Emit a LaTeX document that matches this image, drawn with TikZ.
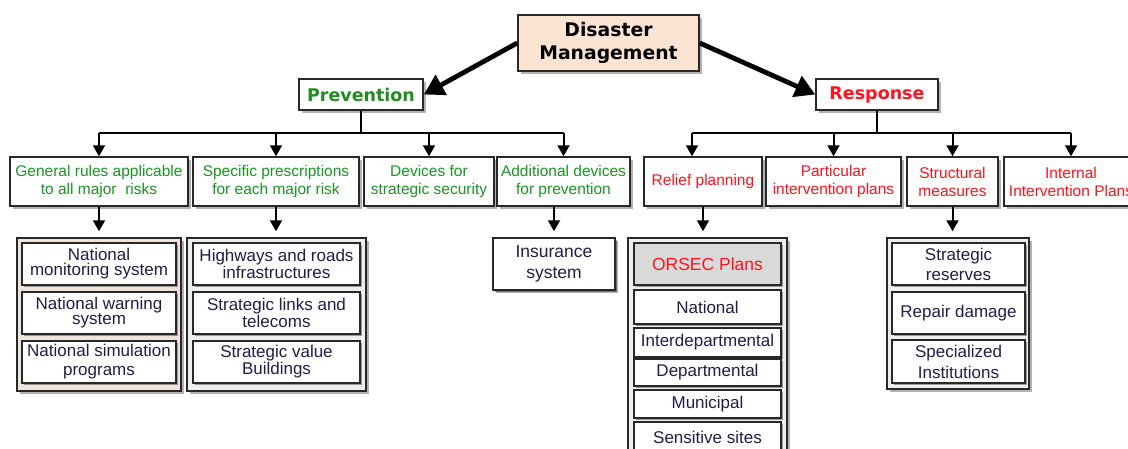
\documentclass[tikz,border=0pt]{standalone}
\usepackage{fontspec}
\setmainfont{Liberation Sans}
\newfontfamily\titlefont{DejaVu Sans}
\usetikzlibrary{arrows.meta,shadows}

\definecolor{peach}{RGB}{252,228,210}
\definecolor{grpeach}{RGB}{238,228,220}
\definecolor{grgray}{RGB}{238,238,238}
\definecolor{hdrgray}{RGB}{217,217,217}
\definecolor{tgreen}{RGB}{25,150,35}
\definecolor{pgreen}{RGB}{34,140,34}
\definecolor{tred}{RGB}{255,20,30}
\definecolor{navy}{RGB}{30,30,75}
\definecolor{edgec}{RGB}{40,40,40}

\begin{document}
\begin{tikzpicture}[x=1pt,y=-1pt,
  shad/.style={drop shadow={shadow xshift=2.5pt,shadow yshift=-2.5pt,opacity=0.3,fill=black}},
  smallshad/.style={drop shadow={shadow xshift=1.5pt,shadow yshift=-1.5pt,opacity=0.35,fill=black}},
  box/.style={draw=edgec,line width=1.5pt,fill=white,inner sep=0pt,align=center,shad},
  topbox/.style={box,font={\titlefont\bfseries\fontsize{17.5}{22}\selectfont}},
  lvtwo/.style={box,minimum height=49,font={\fontsize{15.5}{18}\selectfont}},
  grpbox/.style={draw=edgec,line width=1.5pt,fill=grgray,inner sep=0pt,shad},
  inbox/.style={draw=edgec,line width=1.5pt,fill=white,inner sep=0pt,align=center,smallshad,
    text=navy,font={\fontsize{17}{15}\selectfont}},
  bigarrow/.style={line width=4.8pt,-{Triangle[width=22pt,length=20pt]}},
  busline/.style={line width=2pt},
  arr/.style={line width=2pt,-{Triangle[width=12pt,length=11pt]}}
]
\useasboundingbox (0,0) rectangle (1128,448);

% level 1
\node[topbox,fill=peach,minimum width=181,minimum height=56,text=black,
  font={\titlefont\bfseries\fontsize{18.8}{23}\selectfont}] (dm) at (608.5,43) {Disaster\\Management};
\node[topbox,minimum width=124,minimum height=31,text=pgreen] (prev) at (361,94.5) {Prevention};
\node[topbox,minimum width=122,minimum height=31,text=tred] (resp) at (877,94.5) {Response};

% level 2
\node[lvtwo,minimum width=178,text=tgreen] (gen) at (99,181.5) {General rules applicable\\to all major\ \ risks};
\node[lvtwo,minimum width=166,text=tgreen] (spec) at (276,181.5) {Specific prescriptions\\for each major risk};
\node[lvtwo,minimum width=130,text=tgreen] (dev) at (429,181.5) {Devices for\\strategic security};
\node[lvtwo,minimum width=133,text=tgreen] (add) at (563.5,181.5) {Additional devices\\for prevention};
\node[lvtwo,minimum width=118,text=tred] (rel) at (703,181.5) {Relief planning};
\node[lvtwo,minimum width=135,text=tred] (part) at (833.5,181.5) {Particular\\intervention plans};
\node[lvtwo,minimum width=91,text=tred] (struc) at (952.5,181.5) {Structural\\measures};
\node[lvtwo,minimum width=134,text=tred] (int) at (1071,181.5) {Internal\\Intervention Plans};

% level 3 groups
\node[grpbox,fill=grpeach,minimum width=164,minimum height=153] (g1) at (99,314.5) {};
\node[inbox,minimum width=154,minimum height=42] (n11) at (99,264) {National\\monitoring system};
\node[inbox,minimum width=154,minimum height=42] (n12) at (99,313) {National warning\\system};
\node[inbox,minimum width=154,minimum height=42,font={\fontsize{17}{19}\selectfont}] (n13) at (99,362) {National simulation\\programs};

\node[grpbox,minimum width=179,minimum height=153] (g2) at (276.5,314.5) {};
\node[inbox,minimum width=167,minimum height=42] (n21) at (276.5,264) {Highways and roads\\infrastructures};
\node[inbox,minimum width=167,minimum height=42] (n22) at (276.5,313) {Strategic links and\\telecoms};
\node[inbox,minimum width=167,minimum height=42] (n23) at (276.5,362) {Strategic value\\Buildings};

\node[inbox,shad,minimum width=122,minimum height=52,font={\fontsize{17.5}{21}\selectfont}] (ins) at (554,264) {Insurance\\system};

\node[grpbox,minimum width=159,minimum height=222] (orsec) at (707.5,349) {};
\node[inbox,fill=hdrgray,text=tred,minimum width=147,minimum height=42,font={\fontsize{17.5}{21}\selectfont}] (o0) at (707.5,264) {ORSEC Plans};
\node[inbox,minimum width=147,minimum height=34] (o1) at (707.5,307) {National};
\node[inbox,minimum width=147,minimum height=29] (o2) at (707.5,342.5) {Interdepartmental};
\node[inbox,minimum width=147,minimum height=27] (o3) at (707.5,372.5) {Departmental};
\node[inbox,minimum width=147,minimum height=28] (o4) at (707.5,404) {Municipal};
\node[inbox,minimum width=147,minimum height=30] (o5) at (707.5,437) {Sensitive sites};

\node[grpbox,minimum width=142,minimum height=151] (g4) at (958,313.5) {};
\node[inbox,minimum width=133,minimum height=42,font={\fontsize{17}{20}\selectfont}] (n41) at (958.5,264) {Strategic\\reserves};
\node[inbox,minimum width=133,minimum height=42] (n42) at (958.5,313) {Repair damage};
\node[inbox,minimum width=133,minimum height=43,font={\fontsize{17}{21}\selectfont}] (n43) at (958.5,361.5) {Specialized\\Institutions};

% connectors level 1
\draw[bigarrow] (dm.west) -- (prev.east);
\draw[bigarrow] (dm.east) -- (resp.west);

% prevention bus
\coordinate (pb) at (361,133);
\draw[busline] (prev.south) -- (pb);
\draw[busline] (gen.north |- pb) -- (add.north |- pb);
\draw[arr] (gen.north |- pb) -- (gen.north);
\draw[arr] (spec.north |- pb) -- (spec.north);
\draw[arr] (dev.north |- pb) -- (dev.north);
\draw[arr] (add.north |- pb) -- (add.north);

% response bus
\coordinate (rb) at (877,133);
\coordinate (relin) at ([xshift=-11pt]rel.north);
\draw[busline] (resp.south) -- (rb);
\draw[busline] (relin |- rb) -- (int.north |- rb);
\draw[arr] (relin |- rb) -- (relin);
\draw[arr] (part.north |- rb) -- (part.north);
\draw[arr] (struc.north |- rb) -- (struc.north);
\draw[arr] (int.north |- rb) -- (int.north);

% level 3 arrows
\draw[arr,shorten >=6pt] (gen.south) -- (gen.south |- g1.north);
\draw[arr,shorten >=6pt] (spec.south) -- (spec.south |- g2.north);
\draw[arr,shorten >=6pt] (ins.north |- add.south) -- (ins.north);
\draw[arr,shorten >=6pt] (rel.south) -- (rel.south |- orsec.north);
\draw[arr,shorten >=6pt] (struc.south) -- (struc.south |- g4.north);
\end{tikzpicture}
\end{document}
